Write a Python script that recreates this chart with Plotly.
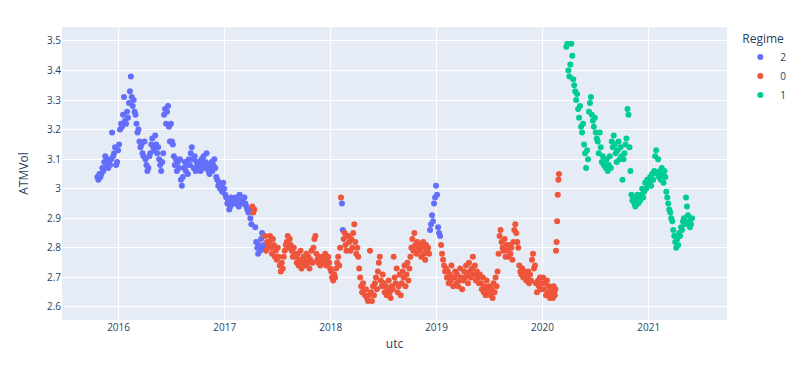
import calendar
import pandas as pd
import plotly.graph_objects as go

months = [
    "2015-10", "2015-11", "2015-12",
    "2016-01", "2016-02", "2016-03", "2016-04", "2016-05", "2016-06",
    "2016-07", "2016-08", "2016-09", "2016-10", "2016-11", "2016-12",
    "2017-01", "2017-02", "2017-03", "2017-04", "2017-05", "2017-06",
    "2017-07", "2017-08", "2017-09", "2017-10", "2017-11", "2017-12",
    "2018-01", "2018-02", "2018-03", "2018-04", "2018-05", "2018-06",
    "2018-07", "2018-08", "2018-09", "2018-10", "2018-11", "2018-12",
    "2019-01", "2019-02", "2019-03", "2019-04", "2019-05", "2019-06",
    "2019-07", "2019-08", "2019-09", "2019-10", "2019-11", "2019-12",
    "2020-01", "2020-02", "2020-03", "2020-04", "2020-05", "2020-06",
    "2020-07", "2020-08", "2020-09", "2020-10", "2020-11", "2020-12",
    "2021-01", "2021-02", "2021-03", "2021-04", "2021-05",
]

N = None
atm_vol = [
    [N, N, N, N, N, 3.04, 3.03, 3.05, 3.04],
    [3.05, 3.07, 3.06, 3.09, 3.11, 3.08, 3.10, 3.07, 3.09],
    [3.08, 3.10, 3.19, 3.11, 3.12, 3.14, 3.08, 3.09, 3.13],
    [3.15, 3.20, 3.22, 3.21, 3.25, 3.31, 3.23, 3.22, 3.26],
    [3.24, 3.29, 3.33, 3.38, 3.31, 3.28, 3.30, 3.26, 3.25],
    [3.22, 3.19, 3.20, 3.16, 3.14, 3.15, 3.12, 3.11, 3.16],
    [3.10, 3.08, 3.06, 3.07, 3.11, 3.12, 3.15, 3.17, 3.14],
    [3.13, 3.18, 3.15, 3.12, 3.14, 3.10, 3.08, 3.06, 3.09],
    [3.12, 3.25, 3.27, 3.22, 3.26, 3.28, 3.21, 3.16, 3.22],
    [3.16, 3.15, 3.11, 3.08, 3.10, 3.06, 3.09, 3.07, 3.10],
    [3.03, 3.01, 3.04, 3.07, 3.09, 3.06, 3.08, 3.05, 3.10],
    [3.08, 3.12, 3.14, 3.10, 3.07, 3.11, 3.06, 3.09, 3.08],
    [3.07, 3.09, 3.06, 3.10, 3.08, 3.11, 3.07, 3.09, 3.12],
    [3.08, 3.06, 3.05, 3.07, 3.09, 3.06, 3.08, 3.10, 3.07],
    [3.04, 3.03, 3.01, 3.02, 3.00, 3.01, 2.99, 3.02, 3.00],
    [2.98, 2.97, 2.95, 2.96, 2.93, 2.94, 2.97, 2.96, 2.95],
    [2.96, 2.95, 2.97, 2.95, 2.96, 2.94, 2.98, 2.96, 2.95],
    [2.96, 2.95, 2.97, 2.95, 2.94, 2.93, 2.92, 2.93, 2.90],
    [2.88, 2.94, 2.92, 2.93, 2.87, 2.82, 2.80, 2.78, 2.81],
    [2.79, 2.83, 2.85, 2.80, 2.81, 2.84, 2.79, 2.82, 2.80],
    [2.82, 2.84, 2.80, 2.78, 2.83, 2.81, 2.77, 2.79, 2.76],
    [2.80, 2.77, 2.74, 2.72, 2.75, 2.73, 2.77, 2.79, 2.81],
    [2.82, 2.84, 2.80, 2.83, 2.81, 2.79, 2.77, 2.80, 2.78],
    [2.77, 2.75, 2.78, 2.74, 2.76, 2.79, 2.73, 2.75, 2.77],
    [2.76, 2.74, 2.78, 2.75, 2.77, 2.73, 2.76, 2.79, 2.75],
    [2.80, 2.83, 2.84, 2.78, 2.76, 2.75, 2.77, 2.74, 2.76],
    [2.76, 2.77, 2.75, 2.78, 2.74, 2.76, 2.77, 2.75, 2.73],
    [2.72, 2.70, 2.69, 2.71, 2.70, 2.73, 2.75, 2.77, 2.74],
    [2.80, 2.97, 2.95, 2.86, 2.83, 2.85, 2.81, 2.79, 2.84],
    [2.84, 2.82, 2.79, 2.83, 2.80, 2.85, 2.88, 2.82, 2.78],
    [2.80, 2.77, 2.73, 2.70, 2.67, 2.65, 2.68, 2.66, 2.64],
    [2.66, 2.63, 2.62, 2.64, 2.79, 2.65, 2.62, 2.67, 2.64],
    [2.68, 2.70, 2.66, 2.72, 2.75, 2.77, 2.69, 2.67, 2.71],
    [2.68, 2.65, 2.67, 2.64, 2.66, 2.69, 2.65, 2.63, 2.67],
    [2.66, 2.77, 2.70, 2.68, 2.73, 2.65, 2.67, 2.71, 2.64],
    [2.68, 2.72, 2.70, 2.74, 2.67, 2.71, 2.75, 2.69, 2.73],
    [2.77, 2.80, 2.83, 2.79, 2.85, 2.81, 2.78, 2.82, 2.80],
    [2.79, 2.81, 2.77, 2.80, 2.82, 2.78, 2.76, 2.81, 2.79],
    [2.80, 2.78, 2.86, 2.88, 2.91, 2.89, 2.95, 2.97, 3.01],
    [2.98, 2.87, 2.85, 2.84, 2.81, 2.78, 2.76, 2.74, 2.72],
    [2.73, 2.70, 2.72, 2.68, 2.71, 2.69, 2.74, 2.70, 2.67],
    [2.70, 2.72, 2.68, 2.71, 2.67, 2.69, 2.73, 2.70, 2.66],
    [2.69, 2.72, 2.70, 2.74, 2.71, 2.68, 2.75, 2.72, 2.70],
    [2.73, 2.77, 2.71, 2.74, 2.69, 2.72, 2.70, 2.68, 2.71],
    [2.68, 2.66, 2.70, 2.65, 2.67, 2.64, 2.69, 2.66, 2.65],
    [2.67, 2.64, 2.66, 2.63, 2.68, 2.65, 2.70, 2.67, 2.72],
    [2.78, 2.84, 2.86, 2.82, 2.80, 2.79, 2.83, 2.77, 2.81],
    [2.79, 2.77, 2.81, 2.78, 2.80, 2.76, 2.82, 2.86, 2.88],
    [2.85, 2.82, 2.80, 2.74, 2.72, 2.71, 2.73, 2.70, 2.72],
    [2.71, 2.69, 2.70, 2.72, 2.68, 2.71, 2.69, 2.76, 2.78],
    [2.73, 2.74, 2.68, 2.65, 2.69, 2.67, 2.70, 2.66, 2.68],
    [2.70, 2.66, 2.68, 2.64, 2.69, 2.65, 2.67, 2.63, 2.66],
    [2.64, 2.66, 2.63, 2.67, 2.65, 2.64, 2.66, 2.79, 2.82, 2.89, 2.98, 3.03, 3.05, N],
    [N, N, N, N, N, N, 3.48, 3.49, 3.40],
    [3.38, 3.42, 3.49, 3.45, 3.37, 3.35, 3.33, 3.30, 3.32],
    [3.27, 3.24, 3.28, 3.21, 3.19, 3.22, 3.15, 3.12, 3.07],
    [3.13, 3.10, 3.26, 3.29, 3.31, 3.25, 3.23, 3.21, 3.24],
    [3.19, 3.17, 3.16, 3.12, 3.19, 3.14, 3.09, 3.11, 3.08],
    [3.09, 3.07, 3.10, 3.06, 3.08, 3.11, 3.07, 3.16, 3.14],
    [3.18, 3.15, 3.12, 3.09, 3.13, 3.16, 3.10, 3.14, 3.11],
    [3.03, 3.10, 3.12, 3.15, 3.17, 3.27, 3.25, 3.14, 3.06],
    [2.98, 2.96, 2.97, 2.95, 2.94, 2.96, 2.98, 2.95, 2.97],
    [2.96, 2.98, 3.00, 2.97, 2.99, 3.02, 3.00, 3.03, 3.01],
    [3.02, 3.04, 3.01, 3.05, 3.03, 3.06, 3.11, 3.13, 3.05],
    [3.10, 3.04, 3.06, 3.03, 3.07, 3.05, 3.02, 3.06, 3.04],
    [2.99, 2.97, 2.95, 2.93, 2.92, 2.90, 2.89, 2.86, 2.84],
    [2.82, 2.80, 2.83, 2.81, 2.85, 2.84, 2.87, 2.86, 2.89],
    [2.90, 2.88, 2.97, 2.94, 2.91, 2.89, 2.87, 2.88, 2.90],
]

# regime code per month (one char = whole month, otherwise one char per value)
regime = (
    ["2"] * 18
    + ["200022222", "222220000"]
    + ["0"] * 8
    + ["002200000"]
    + ["0"] * 9
    + ["002222222", "222200000"]
    + ["0"] * 13
    + ["1"] * 15
)

regime_order = ["2", "0", "1"]
regime_colors = {"2": "#636efa", "0": "#EF553B", "1": "#00cc96"}

rows = []
for m, vals, reg in zip(months, atm_vol, regime):
    y, mo = int(m[:4]), int(m[5:])
    ndays = calendar.monthrange(y, mo)[1]
    start = pd.Timestamp(year=y, month=mo, day=1)
    codes = reg * len(vals) if len(reg) == 1 else reg
    for j, (v, c) in enumerate(zip(vals, codes)):
        if v is None:
            continue
        d = start + pd.Timedelta(days=(j + 0.5) * ndays / len(vals))
        rows.append((d, v, c))
df = pd.DataFrame(rows, columns=["utc", "ATMVol", "Regime"])

fig = go.Figure()
for r in regime_order:
    sub = df[df["Regime"] == r]
    fig.add_trace(go.Scatter(
        x=sub["utc"], y=sub["ATMVol"], mode="markers", name=r,
        marker=dict(color=regime_colors[r], size=6),
    ))

fig.update_layout(
    width=800, height=355,
    margin=dict(l=54, r=81, t=19, b=43),
    font=dict(family="Open Sans, Arial, sans-serif", size=10, color="#2a3f5f"),
    legend=dict(title=dict(text="Regime"), font=dict(size=10)),
    xaxis=dict(title=dict(text="utc", standoff=6), range=["2015-06-20", "2021-09-28"],
               dtick="M12", tick0="2016-01-01", tickformat="%Y"),
    yaxis=dict(title=dict(text="ATMVol"), range=[2.556, 3.547], dtick=0.1),
)

fig.write_html("out.html")
